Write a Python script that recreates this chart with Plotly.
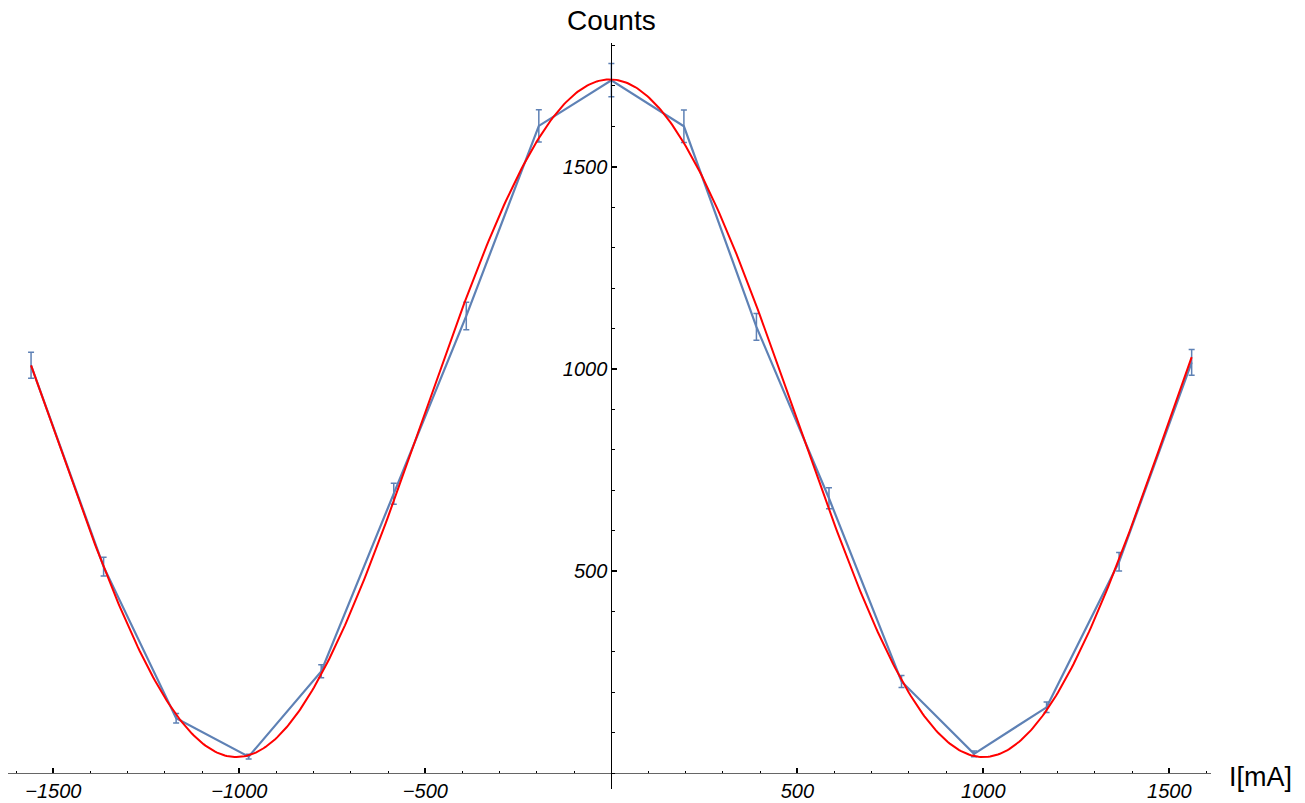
import numpy as np
import plotly.graph_objects as go

# ---- data ----
current_mA = [-1560, -1365, -1170, -975, -780, -585, -390, -195, 0,
              195, 390, 585, 780, 975, 1170, 1365, 1560]
counts = [1009, 511, 136, 41, 252, 691, 1131, 1601, 1714,
          1600, 1104, 680, 227, 48, 163, 523, 1016]
count_err = [32, 23, 12, 6, 16, 26, 34, 40, 41,
             40, 33, 26, 15, 7, 13, 23, 32]

# fit parameters (A + B*cos(pi*(I - I0)/P))
fit_offset = 878.0
fit_amp = 838.0
fit_halfperiod = 1004.0
fit_shift = -4.0
fit_range = [-1560, 1560]

x_tick_vals = [-1500, -1000, -500, 500, 1000, 1500]
y_tick_vals = [500, 1000, 1500]

x_range = [-1622, 1612]
y_range = [-39, 1806]

BLUE = "#5E81B5"
RED = "#FF0000"

fit_x = np.linspace(fit_range[0], fit_range[1], 600)
fit_y = fit_offset + fit_amp * np.cos(np.pi * (fit_x - fit_shift) / fit_halfperiod)

fig = go.Figure()
fig.add_trace(go.Scatter(
    x=current_mA, y=counts, mode="lines",
    line=dict(color=BLUE, width=2.2),
    error_y=dict(type="data", array=count_err, visible=True,
                 color=BLUE, thickness=1.5, width=3),
    hoverinfo="skip", showlegend=False))
fig.add_trace(go.Scatter(
    x=fit_x, y=fit_y, mode="lines",
    line=dict(color=RED, width=2),
    hoverinfo="skip", showlegend=False))

xpos = (0 - y_range[0]) / (y_range[1] - y_range[0])
ypos = (0 - x_range[0]) / (x_range[1] - x_range[0])

tickfont = dict(family="Liberation Sans, Arial, sans-serif", size=20,
                color="black", style="italic")

fig.update_layout(
    width=1305, height=803,
    margin=dict(l=8, r=94, t=43, b=14, autoexpand=False),
    paper_bgcolor="white", plot_bgcolor="white",
    xaxis=dict(range=x_range, anchor="free", position=xpos, automargin=False,
               showgrid=False, zeroline=False, showline=True,
               linecolor="#666666", linewidth=1.3,
               tickmode="array", tickvals=x_tick_vals,
               ticks="inside", ticklen=5, tickwidth=1.5, tickcolor="black",
               tickfont=tickfont, ticklabelstandoff=0,
               minor=dict(tickmode="linear", tick0=0, dtick=100,
                          ticks="inside", ticklen=2.5, tickwidth=1.3,
                          tickcolor="black", showgrid=False)),
    yaxis=dict(range=y_range, anchor="free", position=ypos, automargin=False,
               showgrid=False, zeroline=False, showline=True,
               linecolor="black", linewidth=1,
               tickmode="array", tickvals=y_tick_vals,
               ticks="inside", ticklen=5, tickwidth=1.5, tickcolor="black",
               tickfont=tickfont,
               minor=dict(tickmode="linear", tick0=0, dtick=100,
                          ticks="inside", ticklen=2.5, tickwidth=1.3,
                          tickcolor="black", showgrid=False)),
    annotations=[
        dict(text="Counts", xref="x", x=0, yref="paper", y=1.0,
             xanchor="center", yanchor="bottom", yshift=5, showarrow=False,
             font=dict(family="Liberation Sans, Arial, sans-serif", size=28,
                       color="black")),
        dict(text="I[mA]", xref="paper", x=1.0, yref="y", y=0,
             xanchor="left", yanchor="middle", xshift=16, yshift=-4,
             showarrow=False,
             font=dict(family="Liberation Sans, Arial, sans-serif", size=27,
                       color="black")),
    ],
)

fig.write_html("out.html")
